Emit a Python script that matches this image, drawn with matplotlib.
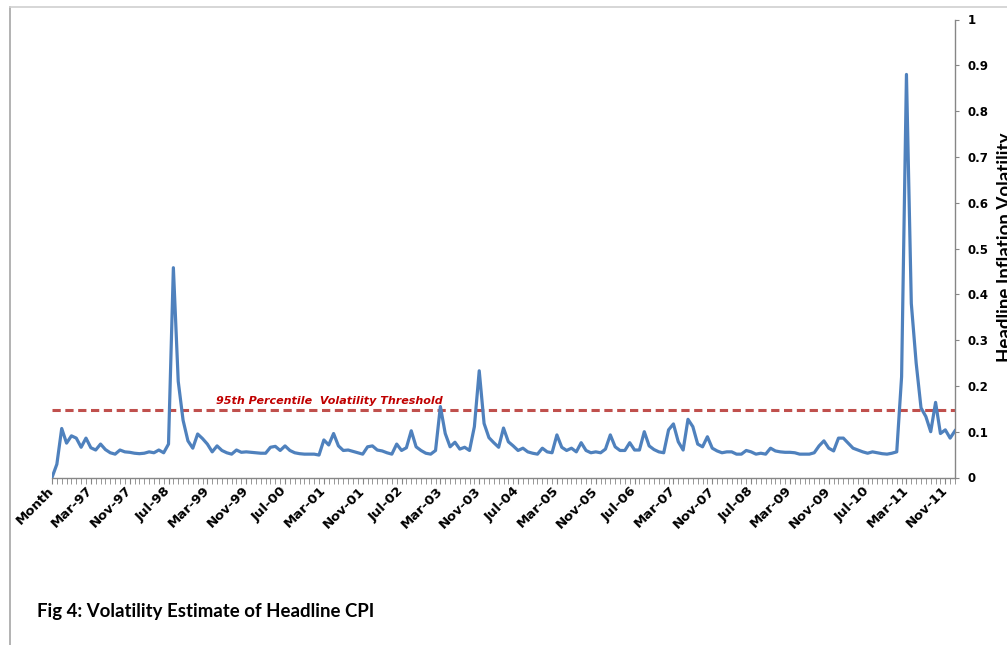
import matplotlib
matplotlib.use("Agg")
import matplotlib.pyplot as plt
from matplotlib.lines import Line2D
import numpy as np

# ---- data ----
volatility = [
    0.000, 0.029, 0.107, 0.075, 0.091, 0.086, 0.066, 0.086, 0.065, 0.060,
    0.073, 0.061, 0.054, 0.051, 0.060, 0.056, 0.055, 0.053, 0.052, 0.053,
    0.056, 0.054, 0.060, 0.054, 0.073, 0.458, 0.210, 0.125, 0.080, 0.064,
    0.095, 0.085, 0.073, 0.056, 0.069, 0.059, 0.054, 0.051, 0.060, 0.055,
    0.056, 0.055, 0.054, 0.053, 0.053, 0.066, 0.068, 0.059, 0.069, 0.059,
    0.054, 0.052, 0.051, 0.051, 0.051, 0.049, 0.082, 0.071, 0.096, 0.069,
    0.059, 0.060, 0.057, 0.054, 0.051, 0.067, 0.069, 0.060, 0.058, 0.054,
    0.051, 0.073, 0.059, 0.065, 0.102, 0.067, 0.059, 0.053, 0.051, 0.059,
    0.155, 0.096, 0.067, 0.077, 0.062, 0.066, 0.059, 0.111, 0.233, 0.118,
    0.087, 0.076, 0.066, 0.108, 0.078, 0.069, 0.059, 0.064, 0.056, 0.053,
    0.051, 0.064, 0.056, 0.054, 0.093, 0.066, 0.059, 0.064, 0.056, 0.076,
    0.059, 0.054, 0.056, 0.054, 0.062, 0.093, 0.067, 0.059, 0.059, 0.076,
    0.060, 0.060, 0.100, 0.069, 0.061, 0.056, 0.054, 0.104, 0.117, 0.078,
    0.060, 0.127, 0.111, 0.073, 0.067, 0.089, 0.064, 0.058, 0.054, 0.056,
    0.056, 0.051, 0.051, 0.059, 0.056, 0.051, 0.053, 0.051, 0.064, 0.058,
    0.056, 0.055, 0.055, 0.054, 0.051, 0.051, 0.051, 0.054, 0.069, 0.080,
    0.064, 0.058, 0.086, 0.086, 0.075, 0.064, 0.060, 0.056, 0.053, 0.056,
    0.054, 0.052, 0.051, 0.053, 0.056, 0.220, 0.880, 0.380, 0.250, 0.152,
    0.133, 0.100, 0.164, 0.096, 0.104, 0.086, 0.102,
]
threshold = 0.147
tick_labels = ["Month", "Mar-97", "Nov-97", "Jul-98", "Mar-99", "Nov-99", "Jul-00",
               "Mar-01", "Nov-01", "Jul-02", "Mar-03", "Nov-03", "Jul-04", "Mar-05",
               "Nov-05", "Jul-06", "Mar-07", "Nov-07", "Jul-08", "Mar-09", "Nov-09",
               "Jul-10", "Mar-11", "Nov-11"]
tick_step = 8
y_ticks = [0, 0.1, 0.2, 0.3, 0.4, 0.5, 0.6, 0.7, 0.8, 0.9, 1.0]
y_tick_labels = ["0", "0.1", "0.2", "0.3", "0.4", "0.5", "0.6", "0.7", "0.8", "0.9", "1"]

W, H = 1007, 645
fig = plt.figure(figsize=(W / 100, H / 100), dpi=100)
ax = fig.add_axes([52 / W, (H - 477.5) / H, (955 - 52) / W, 458 / H])

x = np.arange(len(volatility))
ax.plot(x, volatility, color="#4F81BD", lw=2.3, solid_joinstyle="round", zorder=3)
ax.axhline(threshold, color="#C0504D", lw=2.2, dashes=(2.7, 1.5), zorder=2)
ax.text(57.2, threshold + 0.019, "95th Percentile  Volatility Threshold",
        color="#C00000", fontsize=8, fontweight="bold", fontstyle="italic",
        ha="center", va="center", family="DejaVu Sans")

ax.set_xlim(0, len(volatility) - 1)
ax.set_ylim(0, 1)

for s in ["left", "top"]:
    ax.spines[s].set_visible(False)
for s in ["bottom", "right"]:
    ax.spines[s].set_color("#868686")
    ax.spines[s].set_linewidth(1)

ax.yaxis.tick_right()
ax.set_yticks(y_ticks)
ax.set_yticklabels(y_tick_labels, fontsize=8.5, fontweight="bold", family="DejaVu Sans")
ax.tick_params(axis="y", direction="out", length=3, color="#868686", pad=6)

ax.set_xticks(x[::tick_step][:len(tick_labels)])
ax.set_xticklabels(tick_labels, rotation=45, ha="right", va="center",
                   rotation_mode="anchor", fontsize=9.5, fontweight="bold",
                   family="DejaVu Sans")
ax.set_xticks(x, minor=True)
ax.tick_params(axis="x", which="both", direction="out", length=4, color="#868686", pad=4)

fig.text(997 / W, (H - 247) / H, "Headline Inflation Volatility", rotation=90,
         ha="left", va="center", fontsize=13.5, fontweight="bold",
         family=["Lato", "DejaVu Sans"])

fig.text(37 / W, (H - 611) / H, "Fig 4: Volatility Estimate of Headline CPI",
         ha="left", va="center", fontsize=13.4, fontweight="bold",
         family=["Lato", "DejaVu Sans"])

# chart frame (left and top border)
fig.add_artist(Line2D([10 / W, 10 / W], [0, (H - 7) / H], color="#A6A6A6", lw=1.2,
                      transform=fig.transFigure))
fig.add_artist(Line2D([10 / W, 1], [(H - 7) / H, (H - 7) / H], color="#D0D0D0", lw=1.2,
                      transform=fig.transFigure))

fig.savefig("out.png", dpi=100)
